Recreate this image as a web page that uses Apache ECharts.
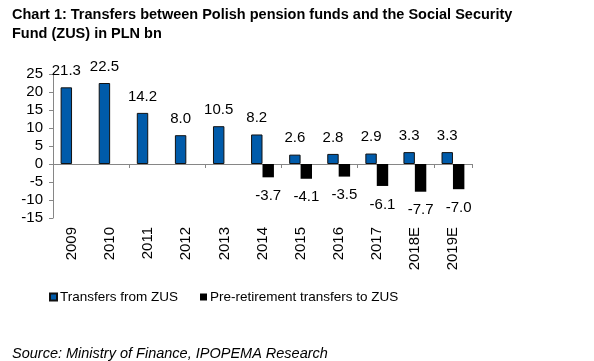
<!DOCTYPE html>
<html>
<head>
<meta charset="utf-8">
<script src="https://cdn.jsdelivr.net/npm/echarts@6/dist/echarts.min.js"></script>
<style>
html,body{margin:0;padding:0;background:#fff;}
#c{width:594px;height:361px;}
</style>
</head>
<body>
<div id="c"></div>
<script>
var categories = ['2009','2010','2011','2012','2013','2014','2015','2016','2017','2018E','2019E'];
var transfersFromZUS = [21.3, 22.5, 14.2, 8.0, 10.5, 8.2, 2.6, 2.8, 2.9, 3.3, 3.3];
var preRetirementToZUS = [null, null, null, null, null, -3.7, -4.1, -3.5, -6.1, -7.7, -7.0];
var yTicks = {min: -15, max: 25, interval: 5};

var FONT = '"Liberation Sans", Arial, sans-serif';
var chart = echarts.init(document.getElementById('c'), null, {renderer: 'canvas'});
chart.setOption({
  animation: false,
  backgroundColor: '#fff',
  title: [{
    text: 'Chart 1: Transfers between Polish pension funds and the Social Security\nFund (ZUS) in PLN bn',
    left: 7, top: 0,
    textStyle: {fontFamily: FONT, fontSize: 14.5, fontWeight: 'bold', color: '#000', lineHeight: 19}
  }, {
    text: 'Source: Ministry of Finance, IPOPEMA Research',
    left: 7, top: 341,
    textStyle: {fontFamily: FONT, fontSize: 14.5, fontWeight: 'normal', fontStyle: 'italic', color: '#000'}
  }],
  legend: {
    left: 49, top: 290, padding: 0,
    itemWidth: 7, itemHeight: 7, itemGap: 22,
    icon: 'rect',
    textStyle: {fontFamily: FONT, fontSize: 13.5, color: '#000', padding: [0,0,0,-2]},
    data: ['Transfers from ZUS', 'Pre-retirement transfers to ZUS']
  },
  grid: {left: 53, right: 122, top: 74, bottom: 143, containLabel: false},
  xAxis: [{
    type: 'category', data: categories,
    axisLine: {onZero: true, lineStyle: {color: '#868686', width: 1}},
    axisTick: {show: true, length: 4, lineStyle: {color: '#868686'}},
    axisLabel: {show: false}
  }, {
    type: 'category', data: categories, position: 'bottom',
    axisLine: {show: false, onZero: false},
    axisTick: {show: false},
    axisLabel: {rotate: 90, margin: 9, fontFamily: FONT, fontSize: 15, color: '#000'}
  }],
  yAxis: {
    type: 'value', min: yTicks.min, max: yTicks.max, interval: yTicks.interval,
    axisLine: {show: true, lineStyle: {color: '#868686', width: 1}},
    axisTick: {show: true, length: 4, lineStyle: {color: '#868686'}},
    splitLine: {show: false},
    axisLabel: {margin: 10, fontFamily: FONT, fontSize: 15, color: '#000'}
  },
  series: [{
    name: 'Transfers from ZUS', type: 'bar', xAxisIndex: 0,
    data: transfersFromZUS,
    barGap: '0%', barCategoryGap: '40%',
    itemStyle: {color: '#005BAA', borderColor: '#111', borderWidth: 1},
    label: {show: true, position: 'top', distance: 9, fontFamily: FONT, fontSize: 15, color: '#000',
      formatter: function(p){ return p.value.toFixed(1); }}
  }, {
    name: 'Pre-retirement transfers to ZUS', type: 'bar', xAxisIndex: 0,
    data: preRetirementToZUS,
    barGap: '0%', barCategoryGap: '40%',
    itemStyle: {color: '#000'},
    label: {show: true, position: 'bottom', distance: 11, fontFamily: FONT, fontSize: 15, color: '#000',
      formatter: function(p){ return p.value == null ? '' : p.value.toFixed(1); }}
  }]
});
</script>
</body>
</html>
